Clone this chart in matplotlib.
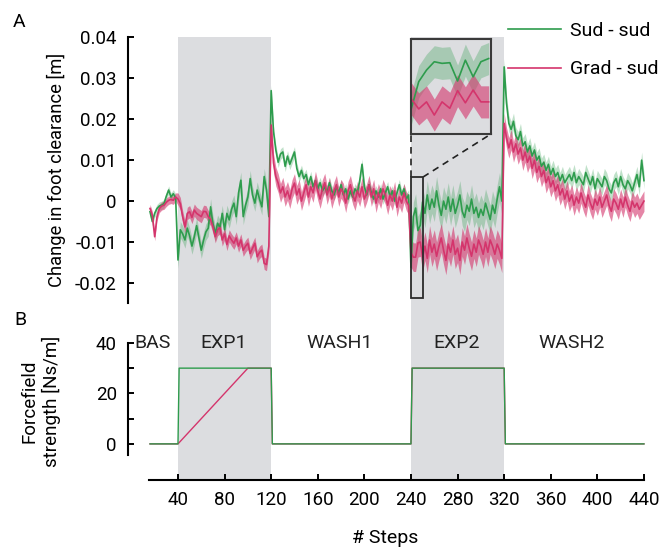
import numpy as np
import matplotlib.pyplot as plt
from matplotlib.patches import Rectangle

plt.rcParams["font.family"] = ["Roboto", "DejaVu Sans"]

# ---- data -------------------------------------------------------------
phase_names = ["BAS", "EXP1", "WASH1", "EXP2", "WASH2"]
phase_first = [16, 40, 120, 240, 320]   # first plotted step of each phase
phase_last = [38, 118, 238, 318, 440]   # last plotted step (every 2nd step)
exp_phases = [(40, 120), (240, 320)]

# mean change in foot clearance per phase, in mm (Sud - sud group)
sud_bas = [-2.6, -5.0, -3.0, -1.8, -1.2, -1.0, -0.6, 1.2, 2.7, 1.0, 1.8, 0.8]
sud_exp1 = [-14.4, -7.0, -8.0, -9.5, -6.6, -8.5, -11.0, -8.7, -6.0, -9.0,
            -12.0, -9.5, -7.5, -6.6, -1.4, -5.5, -7.9, -5.4, -6.5, -3.0,
            -7.0, -3.0, -4.6, -2.0, -0.5, -3.8, 2.0, 5.1, -3.8, -1.0,
            1.0, 5.5, 1.5, -0.5, 2.7, 0.5, -1.4, 6.0, 2.7, -3.8]
sud_wash1 = [27.0, 17.0, 12.5, 9.5, 11.5, 12.0, 8.5, 11.0, 9.0, 10.5,
             12.0, 8.0, 6.0, 7.5, 5.5, 6.5, 4.0, 6.0, 3.5, 5.0,
             3.0, 4.5, 2.5, 3.5, 2.0, 4.5, 2.5, 1.5, 3.5, 2.0,
             4.0, 1.5, 3.0, 0.5, 2.5, 1.0, 3.0, 2.0, 5.0, 9.0,
             3.5, 1.5, 4.0, 2.0, 0.5, 2.5, 1.0, 3.0, 0.5, 2.0,
             3.5, 1.0, 2.5, 0.0, 2.0, 4.0, 1.5, 3.0, 0.5, 1.5]
sud_exp2 = [-16.2, -3.8, -1.7, -7.2, -5.9, -0.2, -3.0, 1.5, -2.0, 0.5,
            -1.5, 2.5, -1.0, -3.5, 0.0, -2.0, 1.0, -2.5, 0.5, -3.0,
            -1.0, 1.5, -2.5, -4.0, -1.0, -2.5, 0.5, -3.0, -1.5, -4.0,
            -2.0, -3.5, -0.5, -2.5, -4.5, -1.0, -3.0, 0.5, 3.5, 0.0]
sud_wash2 = [32.8, 24.0, 19.0, 17.5, 19.5, 16.0, 15.0, 17.0, 13.5, 14.5,
             12.0, 13.5, 11.0, 12.5, 10.0, 11.0, 8.5, 9.5, 7.5, 9.0,
             6.5, 8.0, 6.0, 7.0, 5.0, 6.5, 4.5, 5.5, 6.5, 5.0,
             7.0, 4.5, 6.0, 5.0, 4.0, 7.0, 5.5, 4.0, 6.0, 3.0,
             5.5, 4.5, 3.5, 6.0, 5.0, 3.0, 2.0, 4.5, 5.5, 3.5,
             6.0, 4.0, 3.0, 5.0, 4.0, 2.5, 4.5, 6.5, 3.5, 10.0,
             5.0]

# Grad - sud group, mm
grad_bas = [-1.8, -3.5, -8.7, -3.8, -1.8, -1.2, -1.0, -0.3, 0.2, 0.4, 0.2, 1.0]
grad_exp1 = [0.5, -0.6, -3.8, -6.3, -3.0, -2.6, -4.0, -2.2, -3.0, -3.4,
             -3.8, -2.5, -2.6, -3.8, -4.5, -6.3, -8.7, -7.0, -6.5, -9.5,
             -8.0, -10.6, -8.5, -9.5, -10.3, -9.0, -11.0, -9.5, -12.0, -11.0,
             -10.3, -12.8, -11.5, -10.3, -13.6, -12.5, -12.0, -15.2, -15.5, -11.0]
grad_wash1 = [18.6, 9.3, 6.0, 4.4, 2.0, 3.5, 1.0, 2.5, 0.5, 3.0,
              4.4, 1.5, 3.0, 0.0, 2.0, 4.0, 1.0, 3.5, 2.0, 5.0,
              2.5, 0.5, 3.0, 4.5, 1.5, 3.5, 0.5, 2.5, 4.0, 1.0,
              3.0, 2.0, -0.5, 2.5, 4.0, 1.5, 0.0, 2.5, 1.0, 3.5,
              0.5, 2.0, 4.0, 1.0, 3.0, -0.5, 2.0, 0.5, 3.0, 1.5,
              -1.0, 1.5, 0.0, 2.5, -1.5, 1.0, -0.5, 2.0, 0.0, -1.0]
grad_exp2 = [-12.6, -13.7, -13.7, -10.2, -10.0, -13.7, -11.0, -14.0, -9.5, -12.5,
             -10.5, -13.5, -11.0, -9.0, -12.0, -14.5, -10.5, -12.5, -9.5, -13.0,
             -11.5, -14.5, -10.0, -12.0, -9.0, -11.5, -13.5, -10.5, -12.5, -9.5,
             -11.0, -13.0, -10.0, -12.5, -9.5, -11.0, -13.0, -10.5, -12.0, -14.0]
grad_wash2 = [19.0, 15.5, 13.0, 15.0, 12.0, 14.0, 11.5, 13.0, 10.0, 12.0,
              9.5, 11.0, 8.0, 10.0, 7.0, 8.5, 6.0, 7.5, 4.5, 6.0,
              3.5, 5.0, 2.5, 4.0, 1.5, 3.0, 0.5, 2.5, 0.0, 1.5,
              -1.0, 1.0, -0.5, 2.0, 0.0, -1.5, 1.5, -0.5, -2.0, 0.5,
              -1.0, 1.0, -1.5, 0.0, 1.5, -1.0, -2.5, 0.5, -0.5, -2.0,
              0.5, -1.5, 1.0, -1.0, -2.5, 0.0, -1.5, -0.5, -2.0, -1.0,
              0.0]

# shaded band half width per phase, mm
sud_band = [1.0, 2.0, 1.3, 3.5, 2.0]
grad_band = [1.0, 1.5, 2.3, 3.5, 2.5]

# zoomed-in start of EXP2, every step
inset_steps = [240, 241, 242, 243, 244, 245, 246, 247, 248, 249, 250]
inset_sud = [-16.2, -7.4, -3.8, -1.2, -1.7, -1.5, -7.2, -0.7, -5.9, -1.2, -0.2]
inset_grad = [-12.6, -15.9, -13.7, -17.8, -13.7, -15.7, -10.2, -14.0, -10.0, -13.7, -13.7]
inset_band_sud = 5.0
inset_band_grad = 5.0

# forcefield strength profiles [Ns/m]
force_steps_sud = [16, 40, 41, 120, 121, 240, 241, 320, 321, 440]
force_sud = [0, 0, 30, 30, 0, 0, 30, 30, 0, 0]
force_steps_grad = [16, 40, 100, 120, 121, 240, 241, 320, 321, 440]
force_grad = [0, 0, 30, 30, 0, 0, 30, 30, 0, 0]

# ---- style ------------------------------------------------------------
GREEN = "#2e9c4d"
PINK = "#d4356c"
GREY = "#dcdde0"
W, H = 669, 548


def build(segments, bands):
    vals = np.concatenate([np.asarray(s, float) for s in segments]) / 1000
    half = np.concatenate([np.full(len(s), b) for s, b in zip(segments, bands)]) / 1000
    return vals, half


steps = np.concatenate([np.arange(a, b + 1, 2) for a, b in zip(phase_first, phase_last)])
sud, sud_half = build([sud_bas, sud_exp1, sud_wash1, sud_exp2, sud_wash2], sud_band)
grad, grad_half = build([grad_bas, grad_exp1, grad_wash1, grad_exp2, grad_wash2], grad_band)

fig = plt.figure(figsize=(W / 100, H / 100), dpi=100)
ax = fig.add_axes([128 / W, 1 - 303 / H, 517 / W, 266 / H])
axb = fig.add_axes([128 / W, 1 - 480 / H, 517 / W, 177 / H])

for a in (ax, axb):
    for x0, x1 in exp_phases:
        a.axvspan(x0, x1, color=GREY, lw=0, zorder=0)
    a.set_xlim(-2.9, 440.9)
    a.spines["top"].set_visible(False)
    a.spines["right"].set_visible(False)
    a.spines["left"].set_linewidth(1.5)
    a.spines["bottom"].set_linewidth(1.5)
    a.tick_params(direction="in", length=4, width=1.4, labelsize=13.5, pad=8)
    a.tick_params(which="minor", direction="in", length=4, width=1.4)
    a.patch.set_alpha(0)

# ---- panel A ----------------------------------------------------------
ax.fill_between(steps, sud - sud_half, sud + sud_half, color=GREEN, alpha=0.3, lw=0)
ax.fill_between(steps, grad - grad_half, grad + grad_half, color=PINK, alpha=0.6, lw=0)
l_sud, = ax.plot(steps, sud, color=GREEN, lw=1.2)
l_grad, = ax.plot(steps, grad, color=PINK, lw=1.2)

ax.set_ylim(-0.0249, 0.0401)
ax.spines["bottom"].set_visible(False)
ax.set_xticks([])
yt = [-0.02, -0.01, 0, 0.01, 0.02, 0.03, 0.04]
ax.set_yticks(yt)
ax.set_yticklabels(["-0.02", "-0.01", "0", "0.01", "0.02", "0.03", "0.04"])
fig.text(56 / W, 1 - 170 / H, "Change in foot clearance [m]", rotation=90,
         ha="center", va="center", fontsize=13.2)

# inset with zoom of EXP2 start
zx0, zx1 = 240, 250.3
zy0, zy1 = -0.0237, 0.00587
ix0, ix1, iy0, iy1 = 240, 308.7, 0.0164, 0.0396
axins = ax.inset_axes([ix0, iy0, ix1 - ix0, iy1 - iy0], transform=ax.transData)
axins.set_facecolor(GREY)
isud = np.array(inset_sud) / 1000
igrad = np.array(inset_grad) / 1000
axins.fill_between(inset_steps, isud - inset_band_sud / 1000, isud + inset_band_sud / 1000,
                   color=GREEN, alpha=0.3, lw=0)
axins.fill_between(inset_steps, igrad - inset_band_grad / 1000, igrad + inset_band_grad / 1000,
                   color=PINK, alpha=0.6, lw=0)
axins.plot(inset_steps, isud, color=GREEN, lw=1.2)
axins.plot(inset_steps, igrad, color=PINK, lw=1.2)
axins.set_xlim(zx0, zx1)
axins.set_ylim(zy0, zy1)
axins.set_xticks([])
axins.set_yticks([])
for s in axins.spines.values():
    s.set_color("#3a3a3a")
    s.set_linewidth(1.5)

ax.add_patch(Rectangle((zx0, zy0), zx1 - zx0, zy1 - zy0, fill=False,
                       ec="#2b2b2b", lw=1.3, zorder=5))
ax.plot([zx0, ix0], [zy1, iy0], color="#222222", lw=1.2, ls=(0, (4, 3)))
ax.plot([zx1, ix1], [zy1, iy0], color="#222222", lw=1.2, ls=(0, (4, 3)))

# legend
fig.legend([l_sud, l_grad], ["Sud - sud", "Grad - sud"], loc="upper left",
           bbox_to_anchor=(508 / W, 1 - 22 / H), frameon=False, fontsize=14,
           handlelength=2.75, handletextpad=0.45, labelspacing=1.05,
           borderpad=0, borderaxespad=0)

# ---- panel B ----------------------------------------------------------
axb.plot(force_steps_grad, force_grad, color=PINK, lw=1.0)
axb.plot(force_steps_sud, force_sud, color=GREEN, lw=1.0)
axb.set_ylim(-14.3, 55.8)
axb.spines["left"].set_bounds(-4.4, 40)
axb.spines["bottom"].set_bounds(15, 440)
axb.set_yticks([0, 20, 40])
axb.set_yticks([10, 30], minor=True)
axb.set_xticks(np.arange(40, 441, 40))
fig.text(41 / W, 1 - 401 / H, "Forcefield\nstrength [Ns/m]", rotation=90,
         ha="center", va="center", fontsize=13.5, multialignment="center")
axb.set_xlabel("# Steps", fontsize=14)
axb.xaxis.set_label_coords(0.497, -0.277)

phase_label_x = [18, 79.5, 179, 279, 378]
for name, xl in zip(phase_names, phase_label_x):
    axb.text(xl, 40, name, ha="center", va="center", fontsize=14, color="#222222")

fig.text(13 / W, 1 - 27 / H, "A", fontsize=14)
fig.text(14 / W, 1 - 325 / H, "B", fontsize=14)

fig.savefig("out.png", dpi=100)
